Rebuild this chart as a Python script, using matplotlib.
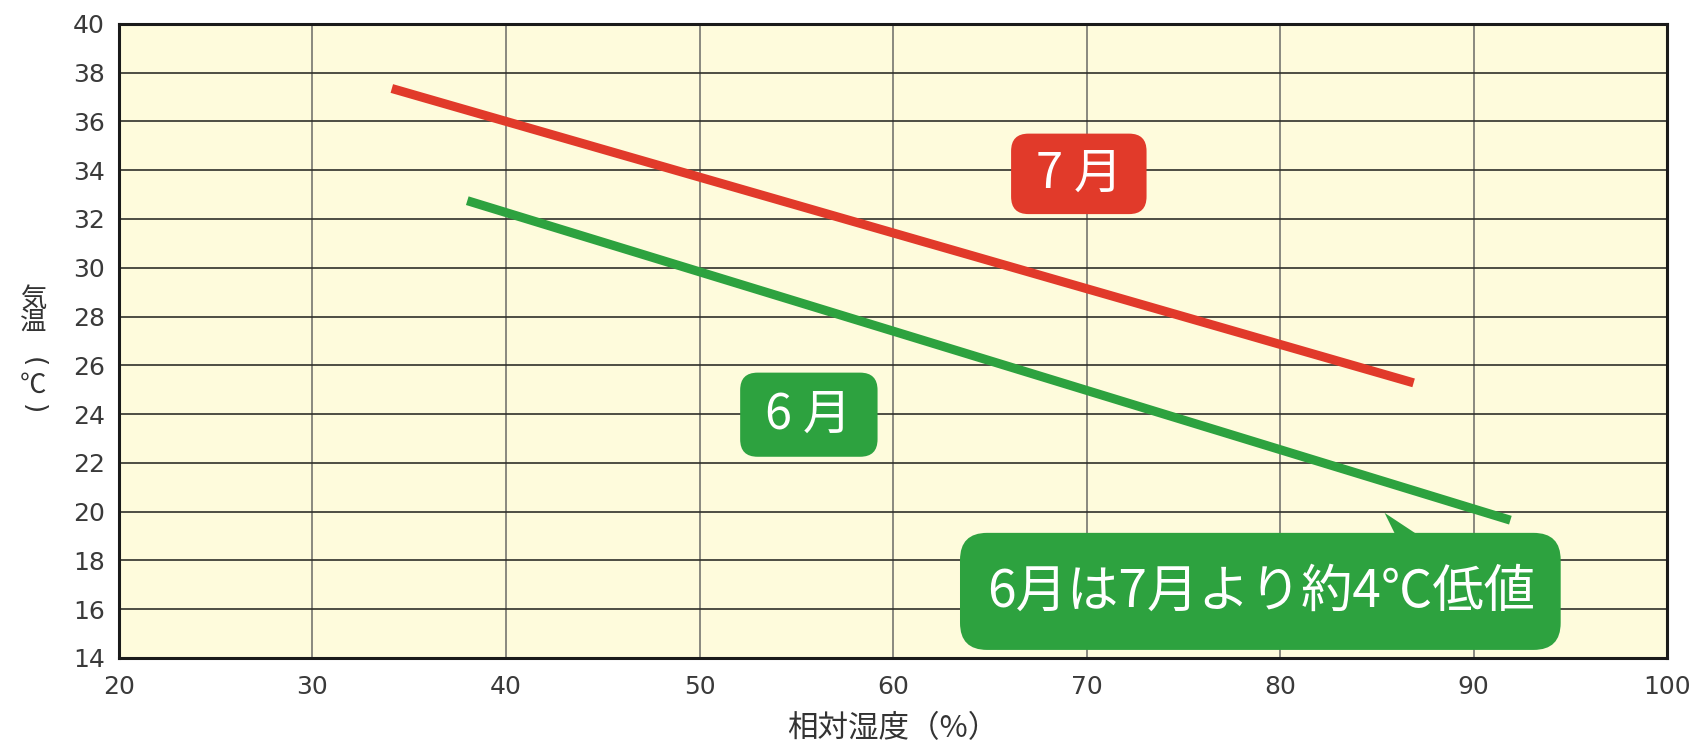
import matplotlib
matplotlib.use("Agg")
from matplotlib import pyplot as plt
from matplotlib.patches import Polygon, FancyBboxPatch

plt.rcParams['font.family'] = ['Noto Sans CJK JP', 'DejaVu Sans']

# data (relative humidity %, temperature C)
july_rh = [34.1, 86.9]
july_temp = [37.35, 25.28]
june_rh = [38.0, 91.9]
june_temp = [32.75, 19.65]

x_ticks = [20, 30, 40, 50, 60, 70, 80, 90, 100]
y_ticks = [14, 16, 18, 20, 22, 24, 26, 28, 30, 32, 34, 36, 38, 40]

red = '#e13a2a'
green = '#2da23f'
bg = '#fefbdc'

W, H = 16.92, 7.46
ax_rect = [0.0703, 0.118, 0.915, 0.850]
fig = plt.figure(figsize=(W, H), dpi=100)
ax = fig.add_axes(ax_rect)
ax.set_facecolor(bg)

ax.set_xlim(20, 100)
ax.set_ylim(14, 40)
ax.set_xticks(x_ticks)
ax.set_yticks(y_ticks)

# y units per x unit for the same pixel length (for round corners)
px_x = 80 / (ax_rect[2] * W * 100)
px_y = 26 / (ax_rect[3] * H * 100)
asp = px_y / px_x

# grid: vertical lines lighter than horizontal ones
for xv in x_ticks[1:-1]:
    ax.axvline(xv, color='#808078', lw=1.3, zorder=1)
for yv in y_ticks[1:-1]:
    ax.axhline(yv, color='#2f2f2a', lw=1.2, zorder=1)

for s in ax.spines.values():
    s.set_linewidth(2.2)
    s.set_color('#1a1a1a')

ax.tick_params(length=0, labelsize=18, labelcolor='#3a3a3a')
for lab in ax.get_xticklabels() + ax.get_yticklabels():
    lab.set_family('DejaVu Sans')
ax.tick_params(axis='y', pad=10)
ax.tick_params(axis='x', pad=12)

ax.plot(july_rh, july_temp, color=red, lw=6.5, solid_capstyle='butt', zorder=3)
ax.plot(june_rh, june_temp, color=green, lw=6.5, solid_capstyle='butt', zorder=3)


def label_box(x0, x1, y0, y1, color, r):
    ax.add_patch(FancyBboxPatch((x0, y0), x1 - x0, y1 - y0,
                                boxstyle='round,pad=0,rounding_size=%g' % r,
                                mutation_aspect=asp, fc=color, ec='none', zorder=4))


# month labels
label_box(66.1, 73.1, 32.2, 35.5, red, 0.9)
ax.text(69.6, 33.85, '7 月', fontsize=35, color='white', ha='center', va='center', zorder=5)
label_box(52.1, 59.2, 22.25, 25.7, green, 0.9)
ax.text(55.63, 23.95, '6 月', fontsize=35, color='white', ha='center', va='center', zorder=5)

# callout with pointer
ax.add_patch(Polygon([[85.4, 19.95], [86.05, 18.9], [87.4, 18.9]],
                     closed=True, fc=green, ec='none', zorder=4))
label_box(63.46, 94.5, 14.33, 19.13, green, 1.4)
ax.text(79.0, 16.7, '6月は7月より約4℃低値', fontsize=37, color='white',
        ha='center', va='center', zorder=5)

# axis titles
fig.text(0.5 * (ax_rect[0] * 2 + ax_rect[2]), 1 - 729 / 746, '相対湿度（%）',
         fontsize=22, color='#333333', ha='center', va='center')
# vertical y title: 気温 stacked, then (℃) with turned brackets
fig.text(33 / 1692, 1 - 311 / 746, '気\n温', fontsize=19, color='#333333',
         ha='center', va='center', linespacing=0.85)
ylab = [('(', 362, -90), ('℃', 385, 0), (')', 409, -90)]
for ch, ypix, rot in ylab:
    fig.text(33 / 1692, 1 - ypix / 746, ch, fontsize=19, color='#333333',
             ha='center', va='center', rotation=rot,
             family=['DejaVu Sans'] if ch in '()' else ['Noto Sans CJK JP', 'DejaVu Sans'])

fig.savefig('out.png', dpi=100)
